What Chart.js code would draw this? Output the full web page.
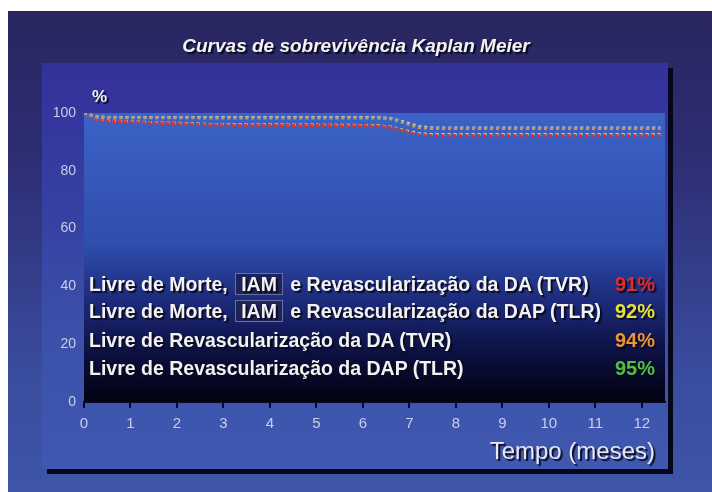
<!DOCTYPE html>
<html>
<head>
<meta charset="utf-8">
<script src="https://cdn.jsdelivr.net/npm/chart.js@4.4.0/dist/chart.umd.min.js"></script>
<style>
  html, body { margin: 0; padding: 0; background: #ffffff; }
  #wrap { position: relative; width: 712px; height: 492px; overflow: hidden; font-family: "Liberation Sans", Arial, sans-serif; }
  #frame { position: absolute; left: 8px; top: 11px; right: 0; bottom: 0;
    background: linear-gradient(#29265f 0%, #2d2d74 30%, #3a4c9e 75%, #3e55a8 100%); }
  #panel { position: absolute; left: 42px; top: 63px; width: 626px; height: 406px;
    background: linear-gradient(#33319a 0%, #3540a2 35%, #3c52aa 70%, #4058b0 100%);
    box-shadow: 5px 5px 0 #06061a; }
  canvas { position: absolute; left: 0; top: 0; }
  .txt { position: absolute; color: #f2f2f2; text-shadow: 2px 2px 1px #0a0a20; white-space: nowrap; }
  #title { left: 0; width: 712px; top: 35px; text-align: center; font: italic bold 19px "Liberation Sans", Arial, sans-serif; }
  #pct { left: 92px; top: 87px; font: bold 17px "Liberation Sans", Arial, sans-serif; }
  .row { left: 89px; font: bold 19.5px "Liberation Sans", Arial, sans-serif; }
  .val { font: bold 20px "Liberation Sans", Arial, sans-serif; right: 57px; position: absolute; text-shadow: 2px 2px 1px #0a0a20; }
  .iam { display: inline-block; padding: 0 5px; margin: 0 2px; line-height: 20px; background: #1d2258; border: 1px solid #6a70a0; }
  #xlab { right: 57px; top: 437px; font: 24px "Liberation Sans", Arial, sans-serif; color: #e6e8f2; }
</style>
</head>
<body>
<div id="wrap">
  <div id="frame"></div>
  <div id="panel"></div>
  <canvas id="myChart" width="712" height="492"></canvas>
  <div class="txt" id="title">Curvas de sobrevivência Kaplan Meier</div>
  <div class="txt" id="pct">%</div>
  <div id="legend"></div>
  <div class="txt" id="xlab">Tempo (meses)</div>
</div>
<script>
// Données (mois / % sans événement)
const temps = [0, 0.3, 0.6, 2.7, 6.3, 6.6, 6.9, 7.2, 7.5, 12.4];
const dapTlr = [100, 98.8, 98.6, 98.6, 98.6, 98.3, 97, 95.5, 95, 95];
const daTvr = [100, 98.5, 98.4, 98.3, 98.3, 98, 96.5, 95, 94.6, 94.6];
const morteDapTlr = [100, 97.8, 97.3, 96.2, 95.8, 95.3, 94, 93, 92.6, 92.6];
const morteDaTvr = [100, 97.5, 97.1, 95.9, 95.5, 95, 93.6, 92.6, 92.2, 92.2];

const yTicks = [0, 20, 40, 60, 80, 100];
const xTicks = [0, 1, 2, 3, 4, 5, 6, 7, 8, 9, 10, 11, 12];

const legendRows = [
  { label: "Livre de Morte, IAM e Revascularização da DA (TVR)", value: "91%", color: "#e42a2a" },
  { label: "Livre de Morte, IAM e Revascularização da DAP (TLR)", value: "92%", color: "#e6e03a" },
  { label: "Livre de Revascularização da DA (TVR)", value: "94%", color: "#ec9434" },
  { label: "Livre de Revascularização da DAP (TLR)", value: "95%", color: "#52c23c" },
];
const legendTops = [273, 300, 329, 357];

// Construction de la légende en texte HTML
const legend = document.getElementById("legend");
legendRows.forEach((row, i) => {
  const d = document.createElement("div");
  d.className = "txt row";
  d.style.top = legendTops[i] + "px";
  d.innerHTML = row.label.replace("IAM", '<span class="iam">IAM</span>');
  legend.appendChild(d);
  const v = document.createElement("div");
  v.className = "val";
  v.style.top = legendTops[i] + "px";
  v.style.color = row.color;
  v.textContent = row.value;
  legend.appendChild(v);
});

const toPoints = (values) => values.map((y, i) => ({ x: temps[i], y: y }));

// Fond dégradé de la zone de tracé (0 à 100 %)
const plotFill = {
  id: "plotFill",
  beforeDatasetsDraw(chart) {
    const { ctx, chartArea } = chart;
    const y = chart.scales.y;
    const top = y.getPixelForValue(100);
    const bottom = y.getPixelForValue(0);
    const g = ctx.createLinearGradient(0, top, 0, bottom);
    g.addColorStop(0, "#3c62c6");
    g.addColorStop(0.45, "#2f4eae");
    g.addColorStop(0.65, "#1c2a7a");
    g.addColorStop(0.85, "#0a0e3a");
    g.addColorStop(1, "#020210");
    ctx.save();
    ctx.fillStyle = g;
    ctx.fillRect(chartArea.left, top, chartArea.right - chartArea.left, bottom - top);
    ctx.restore();
  },
};

const dotted = (data, color, width) => ({
  data: toPoints(data),
  borderColor: color,
  borderWidth: width,
  borderDash: [3, 3],
  pointRadius: 0,
  fill: false,
  tension: 0,
});

const ctx = document.getElementById("myChart").getContext("2d");
new Chart(ctx, {
  type: "line",
  data: {
    datasets: [
      dotted(daTvr, "#b89a70", 3),
      dotted(dapTlr, "#cfe0c4", 2),
      dotted(morteDaTvr, "#cc3a30", 3.2),
      dotted(morteDapTlr, "#f8f2bc", 2.2),
    ],
  },
  plugins: [plotFill],
  options: {
    responsive: false,
    animation: false,
    layout: { padding: { left: 44, top: 113, right: 47, bottom: 60 } },
    plugins: { legend: { display: false }, tooltip: { enabled: false } },
    scales: {
      x: {
        type: "linear",
        min: 0,
        max: 12.5,
        afterFit: (scale) => { scale.height = 30; },
        afterBuildTicks: (scale) => { scale.ticks = xTicks.map((v) => ({ value: v })); },
        border: { display: true, color: "#0a0a24", width: 2 },
        grid: { drawOnChartArea: false, color: "#0a0a24", tickLength: 6, lineWidth: 2 },
        ticks: { color: "#c9cee6", font: { family: "Liberation Sans", size: 15 }, padding: 7 },
      },
      y: {
        min: 0,
        max: 100,
        afterFit: (scale) => { scale.width = 40; },
        afterBuildTicks: (scale) => { scale.ticks = yTicks.map((v) => ({ value: v })); },
        border: { display: false },
        grid: { display: false, drawTicks: false },
        ticks: { color: "#c9cee6", font: { family: "Liberation Sans", size: 14 }, padding: 8 },
      },
    },
  },
});
</script>
</body>
</html>
